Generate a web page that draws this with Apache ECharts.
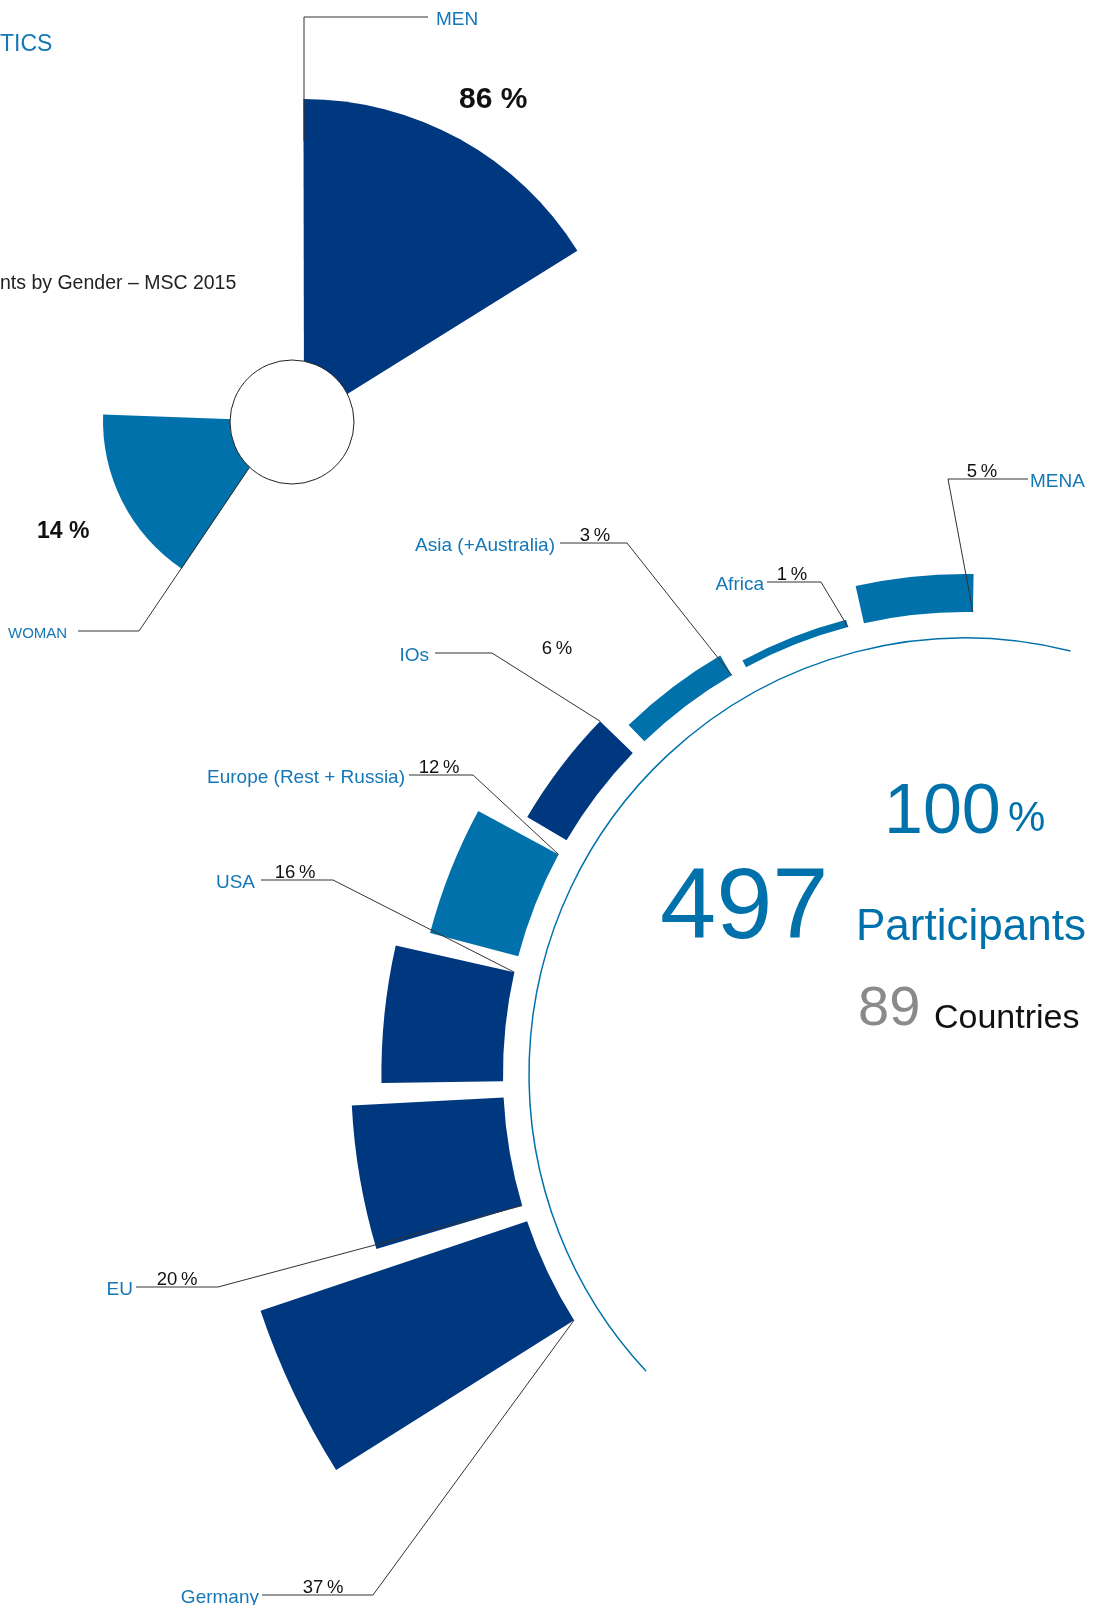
<!DOCTYPE html>
<html>
<head>
<meta charset="utf-8">
<script src="https://cdn.jsdelivr.net/npm/echarts@6/dist/echarts.min.js"></script>
<style>
  html, body { margin: 0; padding: 0; background: #fff; }
  #main { width: 1100px; height: 1605px; }
</style>
</head>
<body>
<div id="main"></div>
<script>
// participants by gender
var genders = ['MEN', 'WOMAN'];
var genderShare = [86, 14];

// participants by region (%), in order round the arc
var regions = ['MENA', 'Africa', 'Asia (+Australia)', 'IOs', 'Europe (Rest + Russia)', 'USA', 'EU', 'Germany'];
var regionShare = [5, 1, 3, 6, 12, 16, 20, 37];

var participants = 497;
var countries = 89;

var NAVY = '#00387f';
var BLUE = '#0071aa';
var TXT_BLUE = '#1577b6';
var FONT = '"Liberation Sans", Arial, sans-serif';

var regionColor = [BLUE, BLUE, BLUE, NAVY, BLUE, NAVY, NAVY, NAVY];

// geometry of the region ring
var ring = { cx: 965, cy: 1074, r0: 462, r1: 766, max: 40, slots: 23, start: 88, gap: 0.13 };

// label placement (pixels): elbow of the leader, end of the horizontal stroke, text x
var regionLabels = [
    { elbow: [948, 479], end: 1028, nameX: 1030, align: 'left', pctX: 982, edge: 'start', at: 'inner' },
    { elbow: [821, 582], end: 767, nameX: 764, align: 'right', pctX: 792, edge: 'start', at: 'inner' },
    { elbow: [627, 543], end: 560, nameX: 555, align: 'right', pctX: 595, edge: 'start', at: 'inner' },
    { elbow: [492, 653], end: 435, nameX: 429, align: 'right', pctX: 557, pctY: 646, edge: 'start', at: 'outer' },
    { elbow: [473, 775], end: 409, nameX: 405, align: 'right', pctX: 439, edge: 'start', at: 'inner' },
    { elbow: [333, 880], end: 261, nameX: 255, align: 'right', pctX: 295, edge: 'start', at: 'inner' },
    { elbow: [218, 1287], end: 136, nameX: 133, align: 'right', pctX: 177, edge: 'end', at: 'inner' },
    { elbow: [373, 1595], end: 262, nameX: 259, align: 'right', pctX: 323, edge: 'end', at: 'inner' }
];

function pct(v) {
    return v + '\u2009%';
}

function text(str, x, y, size, color, align, weight) {
    return {
        type: 'text',
        x: x,
        y: y,
        z: 120,
        silent: true,
        style: {
            text: str,
            fill: color,
            font: (weight || 'normal') + ' ' + size + 'px ' + FONT,
            align: align || 'left',
            textAlign: align || 'left',
            verticalAlign: 'middle',
            textVerticalAlign: 'middle'
        }
    };
}

function line(points) {
    return {
        type: 'polyline',
        z: 90,
        silent: true,
        shape: { points: points },
        style: { stroke: '#333', lineWidth: 1, fill: null }
    };
}

// corner of a region bar, following the ring layout
function barCorner(i, edge, at) {
    var band = 360 / ring.slots;
    var a = edge === 'start'
        ? ring.start + band * i + band * ring.gap / 2
        : ring.start + band * (i + 1) - band * ring.gap / 2;
    var r = at === 'inner' ? ring.r0 : ring.r0 + regionShare[i] / ring.max * (ring.r1 - ring.r0);
    var rad = a * Math.PI / 180;
    return [ring.cx + r * Math.cos(rad), ring.cy - r * Math.sin(rad)];
}

var slotNames = regions.slice();
while (slotNames.length < ring.slots) slotNames.push('');

function genderSlots(name) {
    return [name, '', '', '', '', ''];
}

var hidden = { show: false, axisLine: { show: false }, axisTick: { show: false }, axisLabel: { show: false }, splitLine: { show: false } };

var graphics = [];
var dy = 2.5; // canvas 'middle' sits a little high for these fonts

// centre circle of the gender chart
graphics.push({
    type: 'circle',
    z: 100,
    silent: true,
    shape: { cx: 292, cy: 422, r: 62 },
    style: { fill: '#fff', stroke: '#222', lineWidth: 1 }
});

// thin arc inside the region ring
graphics.push({
    type: 'arc',
    z: 60,
    silent: true,
    shape: { cx: ring.cx, cy: ring.cy, r: 436, startAngle: -223 * Math.PI / 180, endAngle: -76 * Math.PI / 180, clockwise: true },
    style: { stroke: BLUE, lineWidth: 1.5, fill: null }
});

// headings (cut at the left edge of the page)
graphics.push(text('TICS', 0, 42 + dy, 23, TXT_BLUE));
graphics.push(text('nts by Gender \u2013 MSC 2015', 0, 281 + dy, 19.5, '#222'));

// gender labels
graphics.push(line([[428, 17], [304, 17], [304, 141]]));
graphics.push(text(genders[0], 436, 17 + dy, 19, TXT_BLUE));
graphics.push(text(genderShare[0] + ' %', 459, 97 + dy, 30, '#111', 'left', 'bold'));
graphics.push(line([[78, 631], [139, 631], [249, 468]]));
graphics.push(text(genders[1], 8, 631 + dy, 15, TXT_BLUE));
graphics.push(text(genderShare[1] + ' %', 37, 529 + dy, 23, '#111', 'left', 'bold'));

// region labels with leader lines
regionLabels.forEach(function (l, i) {
    var y = l.elbow[1];
    graphics.push(line([[l.end, y], l.elbow, barCorner(i, l.edge, l.at)]));
    graphics.push(text(regions[i], l.nameX, y + dy, 19, TXT_BLUE, l.align));
    graphics.push(text(pct(regionShare[i]), l.pctX, (l.pctY || y - 10) + dy, 18.5, '#111', 'center'));
});

// totals in the middle
var totalShare = regionShare.reduce(function (a, b) { return a + b; }, 0);
graphics.push(text(String(totalShare), 884, 814, 70, BLUE));
graphics.push(text('%', 1008, 819, 42, BLUE));
graphics.push(text(String(participants), 660, 910, 101, BLUE));
graphics.push(text('Participants', 856, 928, 44, BLUE));
graphics.push(text(String(countries), 858, 1010, 56, '#8a8a8a'));
graphics.push(text('Countries', 934, 1019, 34, '#111'));

var chart = echarts.init(document.getElementById('main'), null, { renderer: 'canvas' });

chart.setOption({
    backgroundColor: '#fff',
    animation: false,
    polar: [
        { center: [304, 421], radius: [0, 330] },   // MEN
        { center: [281, 421], radius: [0, 330] },   // WOMAN
        { center: [ring.cx, ring.cy], radius: [ring.r0, ring.r1] }
    ],
    angleAxis: [
        Object.assign({ polarIndex: 0, type: 'category', data: genderSlots(genders[0]), startAngle: 91, clockwise: true }, hidden),
        Object.assign({ polarIndex: 1, type: 'category', data: genderSlots(genders[1]), startAngle: 237, clockwise: true }, hidden),
        Object.assign({ polarIndex: 2, type: 'category', data: slotNames, startAngle: ring.start, clockwise: false }, hidden)
    ],
    radiusAxis: [
        Object.assign({ polarIndex: 0, type: 'value', min: -75, max: 90, startValue: -75 }, hidden),
        Object.assign({ polarIndex: 1, type: 'value', min: -75, max: 90, startValue: -75 }, hidden),
        Object.assign({ polarIndex: 2, type: 'value', min: 0, max: ring.max }, hidden)
    ],
    graphic: { elements: graphics },
    series: [
        {
            type: 'bar',
            coordinateSystem: 'polar',
            polarIndex: 0,
            barCategoryGap: '3%',
            silent: true,
            itemStyle: { color: NAVY },
            data: [genderShare[0]]
        },
        {
            type: 'bar',
            coordinateSystem: 'polar',
            polarIndex: 1,
            barCategoryGap: '3%',
            silent: true,
            itemStyle: { color: BLUE },
            data: [genderShare[1]]
        },
        {
            type: 'bar',
            coordinateSystem: 'polar',
            polarIndex: 2,
            barCategoryGap: (ring.gap * 100) + '%',
            silent: true,
            data: regionShare.map(function (v, i) {
                return { value: v, itemStyle: { color: regionColor[i] } };
            })
        }
    ]
});
</script>
</body>
</html>
